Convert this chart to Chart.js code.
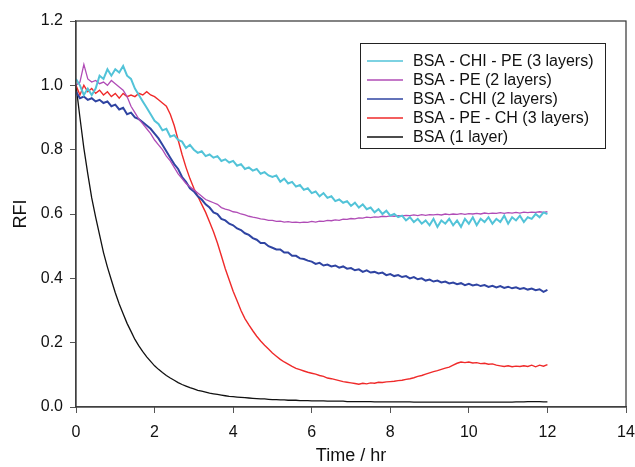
<!DOCTYPE html>
<html>
<head>
<meta charset="utf-8">
<script src="https://cdn.jsdelivr.net/npm/chart.js@4"></script>
<style>
  html, body { margin: 0; padding: 0; background: #fff; }
  #wrap { width: 635px; height: 467px; }
</style>
</head>
<body>
<div id="wrap"><canvas id="rfiChart" width="635" height="467"></canvas></div>
<script>
// time axis, one reading every 0.1 hr from 0 to 12
let timeHr = Array.from({ length: 121 }, (_, i) => i / 10);

let seriesNames = ['BSA - CHI - PE (3 layers)', 'BSA - PE (2 layers)', 'BSA - CHI (2 layers)', 'BSA - PE - CH (3 layers)', 'BSA (1 layer)'];

let chiPe3 = [
  1.02, 1.00, 0.97, 0.99, 0.97, 0.99, 1.03, 1.02, 1.05, 1.03,
  1.05, 1.04, 1.06, 1.03, 1.02, 0.99, 0.97, 0.95, 0.93, 0.91,
  0.89, 0.88, 0.86, 0.865, 0.84, 0.845, 0.83, 0.825, 0.805, 0.815,
  0.80, 0.79, 0.795, 0.78, 0.785, 0.775, 0.78, 0.765, 0.77, 0.76,
  0.765, 0.75, 0.755, 0.74, 0.745, 0.735, 0.74, 0.725, 0.73, 0.72,
  0.715, 0.72, 0.70, 0.71, 0.695, 0.70, 0.685, 0.69, 0.675, 0.68,
  0.665, 0.67, 0.655, 0.665, 0.65, 0.655, 0.64, 0.645, 0.635, 0.64,
  0.625, 0.635, 0.62, 0.63, 0.615, 0.62, 0.605, 0.615, 0.60, 0.61,
  0.595, 0.60, 0.59, 0.595, 0.58, 0.59, 0.575, 0.585, 0.57, 0.58,
  0.565, 0.585, 0.56, 0.58, 0.57, 0.585, 0.565, 0.58, 0.56, 0.585,
  0.57, 0.59, 0.565, 0.585, 0.575, 0.59, 0.57, 0.585, 0.575, 0.595,
  0.57, 0.59, 0.58, 0.595, 0.575, 0.59, 0.585, 0.60, 0.59, 0.605,
  0.60
];

let pe2 = [
  1.00, 1.01, 1.065, 1.02, 1.01, 1.015, 1.005, 1.01, 1.00, 1.015,
  1.005, 0.995, 0.985, 0.965, 0.935, 0.915, 0.895, 0.88, 0.865, 0.85,
  0.83, 0.815, 0.80, 0.78, 0.765, 0.745, 0.725, 0.71, 0.695, 0.685,
  0.675, 0.665, 0.655, 0.645, 0.64, 0.635, 0.63, 0.62, 0.615, 0.612,
  0.607, 0.605, 0.60, 0.597, 0.593, 0.59, 0.588, 0.585, 0.583, 0.58,
  0.58, 0.577, 0.578, 0.575, 0.576, 0.574, 0.575, 0.573, 0.575, 0.574,
  0.577, 0.575, 0.578, 0.577, 0.58, 0.579, 0.582, 0.58, 0.584, 0.583,
  0.586, 0.585, 0.588, 0.587, 0.59, 0.589, 0.591, 0.59, 0.593, 0.592,
  0.594, 0.593, 0.595, 0.594, 0.596, 0.595, 0.597, 0.595, 0.598, 0.596,
  0.598, 0.597, 0.599, 0.597, 0.60, 0.598, 0.60, 0.599, 0.601, 0.599,
  0.601, 0.60, 0.602, 0.60, 0.603, 0.601, 0.603, 0.602, 0.604, 0.602,
  0.604, 0.603, 0.605, 0.603, 0.606, 0.604, 0.606, 0.605, 0.607, 0.605,
  0.607
];

let chi2 = [
  0.98, 0.96, 0.965, 0.955, 0.96, 0.95, 0.955, 0.945, 0.95, 0.935,
  0.94, 0.925, 0.93, 0.91, 0.915, 0.90, 0.895, 0.885, 0.875, 0.865,
  0.85, 0.835, 0.815, 0.795, 0.775, 0.755, 0.74, 0.715, 0.70, 0.68,
  0.67, 0.655, 0.645, 0.63, 0.62, 0.605, 0.60, 0.585, 0.58, 0.57,
  0.565, 0.555, 0.55, 0.54, 0.535, 0.525, 0.52, 0.51, 0.51, 0.50,
  0.495, 0.49, 0.49, 0.48, 0.48, 0.47, 0.47, 0.462, 0.46, 0.455,
  0.452, 0.445, 0.448, 0.44, 0.443, 0.437, 0.44, 0.433, 0.437, 0.43,
  0.432, 0.425, 0.428, 0.42, 0.425, 0.418, 0.42, 0.415, 0.418, 0.41,
  0.413, 0.407, 0.41, 0.404, 0.407, 0.40, 0.404, 0.397, 0.40, 0.393,
  0.396, 0.39, 0.393, 0.387, 0.39, 0.384, 0.387, 0.382, 0.385, 0.379,
  0.383, 0.378, 0.381, 0.376, 0.379, 0.373, 0.377, 0.372, 0.376, 0.37,
  0.374, 0.369, 0.372, 0.367, 0.37, 0.365, 0.368, 0.363, 0.366, 0.358,
  0.364
];

let peCh3 = [
  1.00, 0.97, 1.00, 0.98, 0.99, 0.975, 0.985, 0.97, 0.98, 0.965,
  0.975, 0.96, 0.975, 0.965, 0.97, 0.965, 0.975, 0.97, 0.98, 0.97,
  0.965, 0.955, 0.945, 0.935, 0.91, 0.875, 0.83, 0.785, 0.745, 0.71,
  0.68, 0.655, 0.63, 0.605, 0.575, 0.545, 0.51, 0.47, 0.43, 0.395,
  0.36, 0.33, 0.30, 0.275, 0.255, 0.237, 0.22, 0.205, 0.192, 0.18,
  0.168, 0.158, 0.148, 0.14, 0.133, 0.126, 0.12, 0.116, 0.112, 0.108,
  0.105, 0.102, 0.098, 0.095, 0.09, 0.088, 0.085, 0.082, 0.079, 0.077,
  0.075, 0.073, 0.071, 0.074, 0.072, 0.075, 0.074, 0.077, 0.076, 0.078,
  0.079, 0.08, 0.082, 0.083, 0.086, 0.088, 0.091, 0.095, 0.098, 0.102,
  0.106, 0.11, 0.113, 0.117, 0.121, 0.124, 0.13, 0.136, 0.14, 0.138,
  0.14, 0.137, 0.138, 0.135, 0.136, 0.133, 0.134, 0.13, 0.128, 0.126,
  0.128, 0.125, 0.127, 0.126, 0.128, 0.126, 0.13, 0.125, 0.13, 0.127,
  0.132
];

let bsa1 = [
  1.00, 0.90, 0.805, 0.725, 0.65, 0.59, 0.535, 0.48, 0.435, 0.395,
  0.355, 0.32, 0.29, 0.26, 0.235, 0.21, 0.19, 0.172, 0.156, 0.142,
  0.128, 0.117, 0.107, 0.098, 0.09, 0.083, 0.076, 0.07, 0.065, 0.06,
  0.056, 0.052, 0.049, 0.046, 0.043, 0.041, 0.039, 0.037, 0.035, 0.033,
  0.032, 0.031, 0.03, 0.029, 0.028, 0.027, 0.026, 0.025, 0.025, 0.024,
  0.023, 0.023, 0.022, 0.022, 0.021, 0.021, 0.021, 0.02, 0.02, 0.02,
  0.019, 0.019, 0.019, 0.019, 0.018, 0.018, 0.018, 0.018, 0.018, 0.017,
  0.017, 0.017, 0.017, 0.017, 0.017, 0.017, 0.016, 0.016, 0.016, 0.016,
  0.016, 0.016, 0.016, 0.016, 0.016, 0.016, 0.015, 0.015, 0.015, 0.015,
  0.015, 0.015, 0.015, 0.015, 0.015, 0.015, 0.015, 0.015, 0.015, 0.015,
  0.015, 0.015, 0.015, 0.015, 0.015, 0.015, 0.015, 0.015, 0.015, 0.015,
  0.015, 0.015, 0.016, 0.016, 0.016, 0.017, 0.017, 0.017, 0.017, 0.016,
  0.016
];

let xTicks = [0, 2, 4, 6, 8, 10, 12, 14];
let yTicks = [0, 0.2, 0.4, 0.6, 0.8, 1.0, 1.2];

let fontFam = "Arial, 'Liberation Sans', Helvetica, sans-serif";
let colors = ['#52c3d8', '#b04cb6', '#2f44a2', '#ef2a2a', '#111111'];
let widths = [2, 1.3, 2, 1.4, 1.3];
let allSeries = [chiPe3, pe2, chi2, peCh3, bsa1];

function toPoints(vals) {
  return timeHr.map((t, i) => ({ x: t, y: vals[i] }));
}

// boxed legend in the upper right, plus the frame around the plot
let boxLegend = {
  id: 'boxLegend',
  afterDraw(chart) {
    let ctx = chart.ctx;
    let a = chart.chartArea;
    ctx.save();
    ctx.strokeStyle = '#333';
    ctx.lineWidth = 1.2;
    ctx.strokeRect(a.left, a.top, a.right - a.left, a.bottom - a.top);

    ctx.strokeStyle = '#222';
    ctx.lineWidth = 1;
    ctx.strokeRect(360.5, 43.5, 245, 105);
    ctx.font = '16px ' + fontFam;
    ctx.textBaseline = 'middle';
    ctx.fillStyle = '#111';
    chart.data.datasets.forEach((ds, i) => {
      let y = 61 + i * 19;
      ctx.strokeStyle = ds.borderColor;
      ctx.lineWidth = 1.5;
      ctx.beginPath();
      ctx.moveTo(367, y);
      ctx.lineTo(403, y);
      ctx.stroke();
      ctx.fillText(ds.label, 413, y + 1);
    });
    ctx.restore();
  }
};

let rfiChart = new Chart(document.getElementById('rfiChart').getContext('2d'), {
  type: 'line',
  data: {
    datasets: allSeries.map((vals, i) => ({
      label: seriesNames[i],
      data: toPoints(vals),
      borderColor: colors[i],
      borderWidth: widths[i],
      pointRadius: 0,
      fill: false,
      tension: 0
    }))
  },
  options: {
    responsive: false,
    animation: false,
    layout: { padding: { left: 0, top: 21, right: 9, bottom: 0 } },
    plugins: {
      legend: { display: false },
      tooltip: { enabled: false }
    },
    scales: {
      x: {
        type: 'linear',
        min: 0,
        max: 14,
        afterBuildTicks: (scale) => { scale.ticks = xTicks.map(v => ({ value: v })); },
        afterFit: (scale) => { scale.height = 60; scale.paddingRight = 0; scale.paddingLeft = 0; },
        ticks: { font: { size: 16, family: fontFam }, color: '#111', padding: 10 },
        grid: { drawOnChartArea: false, drawTicks: true, tickLength: 6, tickColor: '#555' },
        border: { display: true, color: '#555', width: 1.2 },
        title: { display: true, text: 'Time / hr', font: { size: 18, family: fontFam }, color: '#111', padding: { top: 0, bottom: 0 } }
      },
      y: {
        min: 0,
        max: 1.2,
        afterBuildTicks: (scale) => { scale.ticks = yTicks.map(v => ({ value: v })); },
        afterFit: (scale) => { scale.width = 76; },
        ticks: { font: { size: 16, family: fontFam }, color: '#111', padding: 7, callback: (v) => v.toFixed(1) },
        grid: { drawOnChartArea: false, drawTicks: true, tickLength: 6, tickColor: '#555' },
        border: { display: true, color: '#555', width: 1.2 },
        title: { display: true, text: 'RFI', font: { size: 18, family: fontFam }, color: '#111', padding: { top: 10, bottom: 0 } }
      }
    }
  },
  plugins: [boxLegend]
});
</script>
</body>
</html>
